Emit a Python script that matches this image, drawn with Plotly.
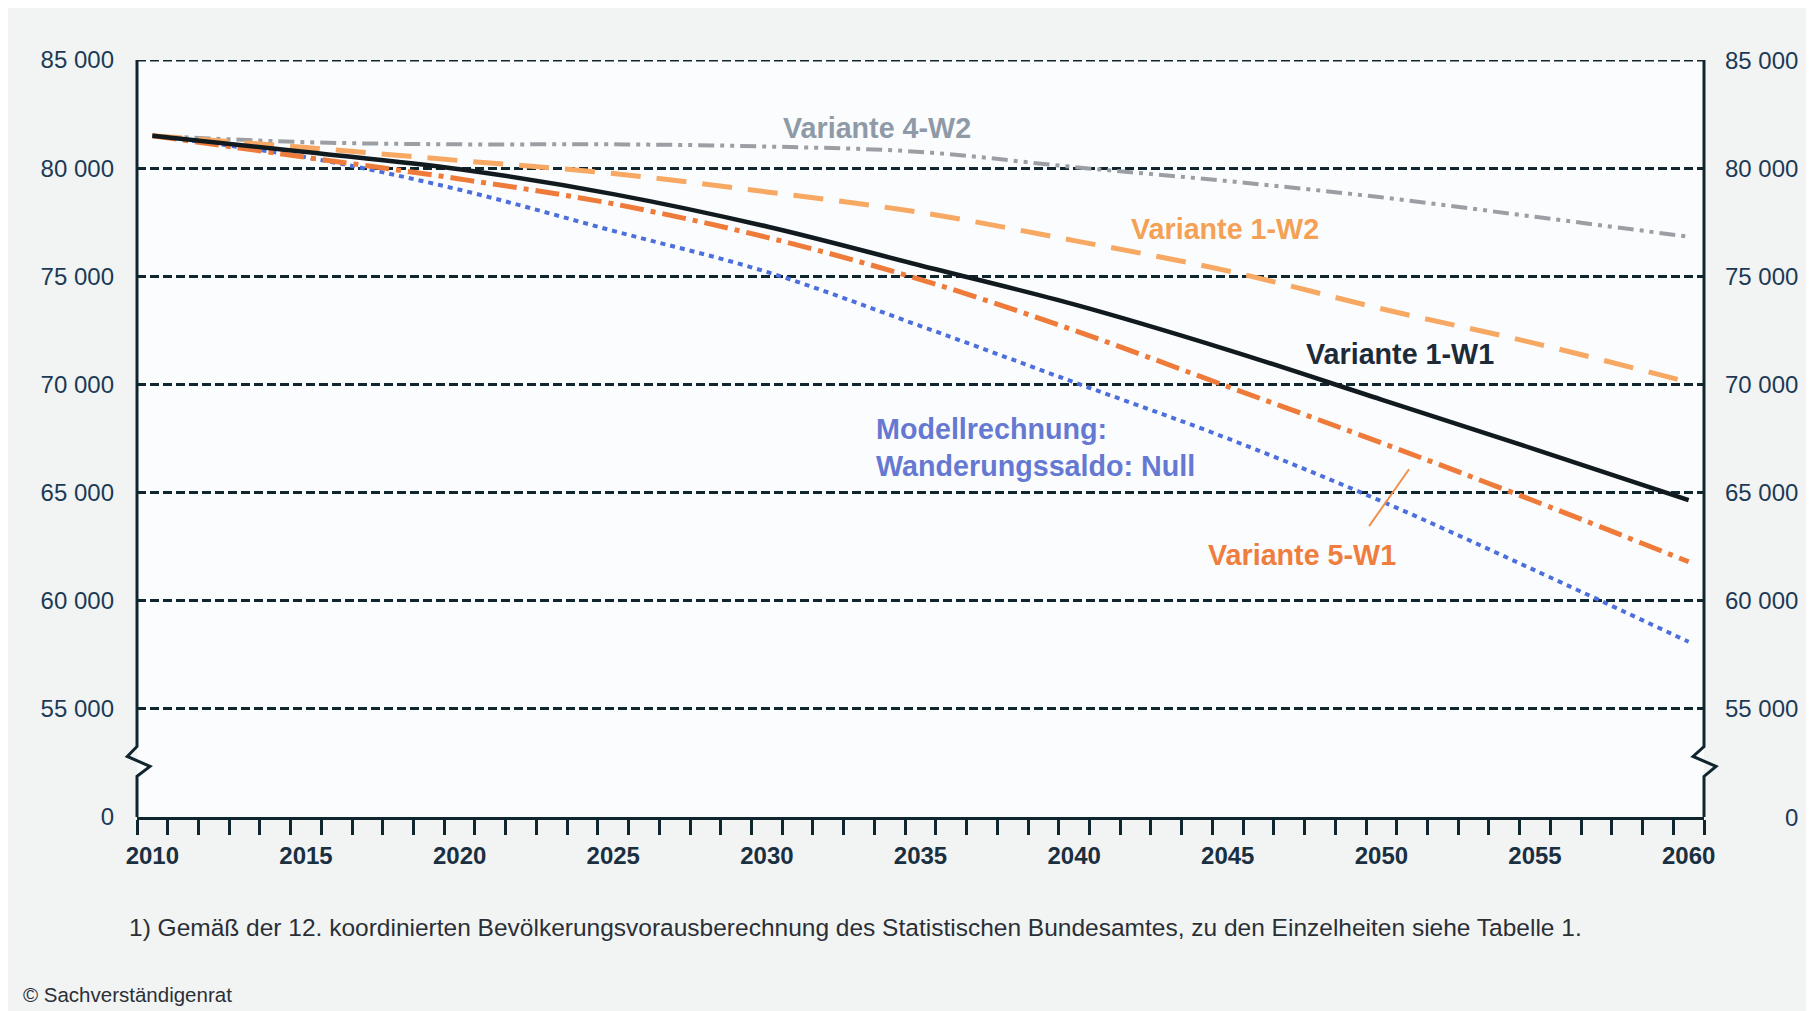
import plotly.graph_objects as go

# Jahre und Bevölkerung (in Tausend)
years = [2010, 2015, 2020, 2025, 2030, 2035, 2040, 2045, 2050, 2055, 2060]
v1_w1 = [81500, 80750, 79950, 78800, 77300, 75500, 73700, 71600, 69300, 67000, 64650]
v1_w2 = [81500, 80950, 80350, 79750, 78900, 77950, 76650, 75250, 73500, 71900, 70100]
v4_w2 = [81500, 81200, 81100, 81100, 81000, 80750, 80050, 79400, 78650, 77750, 76830]
v5_w1 = [81500, 80500, 79500, 78350, 76800, 74850, 72500, 69900, 67300, 64600, 61800]
modell = [81500, 80500, 79000, 77100, 75200, 72700, 70100, 67500, 64600, 61400, 58100]

y_ticks = [50000, 55000, 60000, 65000, 70000, 75000, 80000, 85000]
y_labels = ["0", "55 000", "60 000", "65 000", "70 000", "75 000", "80 000", "85 000"]
x_ticks = [2010, 2015, 2020, 2025, 2030, 2035, 2040, 2045, 2050, 2055, 2060]

FONT = "Liberation Sans, Arial, sans-serif"
DARK = "#10262e"
GRID_DASH = "9px,4px"

fig = go.Figure()
fig.add_trace(go.Scatter(x=years, y=v4_w2, mode="lines", line_shape="spline",
                         line=dict(color="#9b9fa4", width=4, dash="16px,6px,4px,6px,4px,6px")))
fig.add_trace(go.Scatter(x=years, y=v1_w2, mode="lines", line_shape="spline",
                         line=dict(color="#f7a862", width=5, dash="30px,16px")))
fig.add_trace(go.Scatter(x=years, y=modell, mode="lines", line_shape="spline",
                         line=dict(color="#4c6fdc", width=4, dash="5px,5px")))
fig.add_trace(go.Scatter(x=years, y=v5_w1, mode="lines", line_shape="spline",
                         line=dict(color="#ef7b3b", width=5, dash="24px,7px,5px,7px")))
fig.add_trace(go.Scatter(x=years, y=v1_w1, mode="lines", line_shape="spline",
                         line=dict(color="#111a1f", width=4.5)))

fig.update_traces(showlegend=False, hoverinfo="skip")

fig.update_layout(
    width=1806, height=1003,
    margin=dict(l=129, r=110, t=52, b=194),
    paper_bgcolor="#f2f4f4",
    plot_bgcolor="#fbfcfe",
    font=dict(family=FONT, color="#1d3a55"),
)

fig.update_xaxes(range=[2009.5, 2060.5], tickvals=x_ticks, ticks="",
                 tickfont=dict(size=24, color="#1a2f40", family=FONT, weight="bold"),
                 ticklabelstandoff=15,
                 showgrid=False, zeroline=False,
                 showline=True, linecolor=DARK, linewidth=3,
                 minor=dict(ticks="outside", ticklen=15, tickwidth=3, tickcolor=DARK,
                            tickmode="linear", tick0=2009.5, dtick=1, showgrid=False))

fig.update_yaxes(range=[50000, 85000], tickvals=y_ticks, ticktext=y_labels, ticks="",
                 tickfont=dict(size=24, color="#1d3a55"), ticklabelstandoff=22,
                 showgrid=True, gridcolor=DARK, gridwidth=3, griddash=GRID_DASH,
                 zeroline=False, showline=False)

# obere Gitterlinie (85 000)
fig.add_shape(type="line", xref="paper", yref="y", x0=0, x1=1, y0=y_ticks[-1], y1=y_ticks[-1],
              line=dict(color=DARK, width=3, dash=GRID_DASH))

# rechte Achsenbeschriftung
for v, t in zip(y_ticks, y_labels):
    fig.add_annotation(x=1.0613, xref="paper", y=v, yref="y", text=t, showarrow=False,
                       xanchor="right", yanchor="middle", font=dict(size=24, color="#1d3a55"))

# Achsen mit Bruchzeichen
fig.add_shape(type="path", xref="paper", yref="y", line=dict(color=DARK, width=3),
              path="M 0,85000 L 0,53260 L -0.0062,52800 L 0.0083,52340 L 0,51880 L 0,50000")
fig.add_shape(type="path", xref="paper", yref="y", line=dict(color=DARK, width=3),
              path="M 1,85000 L 1,53260 L 0.993,52800 L 1.0077,52340 L 1,51880 L 1,50000")

# Beschriftungen der Linien
fig.add_annotation(x=2033.6, y=81860, text="<b>Variante 4-W2</b>", showarrow=False,
                   font=dict(size=28.7, color="#8e9aa6"))
fig.add_annotation(x=2044.9, y=77200, text="<b>Variante 1-W2</b>", showarrow=False,
                   font=dict(size=28.7, color="#f4a156"))
fig.add_annotation(x=2050.6, y=71430, text="<b>Variante 1-W1</b>", showarrow=False,
                   font=dict(size=28.7, color="#1d2b38"))
fig.add_annotation(x=2033.5, y=67075, text="<b>Modellrechnung:<br>Wanderungssaldo: Null</b>",
                   showarrow=False, xanchor="left", align="left",
                   font=dict(size=28.7, color="#6679d2"))
fig.add_annotation(x=2047.4, y=62110, text="<b>Variante 5-W1</b>", showarrow=False,
                   font=dict(size=28.7, color="#ef7e3e"))
fig.add_shape(type="line", x0=2049.6, y0=63450, x1=2050.9, y1=66080,
              line=dict(color="#f0904e", width=2))

fig.add_annotation(x=-0.0064, y=-0.1466, xref="paper", yref="paper", xanchor="left",
                   yanchor="middle", showarrow=False,
                   text="1) Gemäß der 12. koordinierten Bevölkerungsvorausberechnung des Statistischen "
                        "Bundesamtes, zu den Einzelheiten siehe Tabelle 1.",
                   font=dict(size=24.5, color="#2a2f36"))
fig.add_annotation(x=-0.074, y=-0.235, xref="paper", yref="paper", xanchor="left",
                   yanchor="middle", showarrow=False, text="© Sachverständigenrat",
                   font=dict(size=20.5, color="#2a2f36"))

fig.write_html("out.html")
